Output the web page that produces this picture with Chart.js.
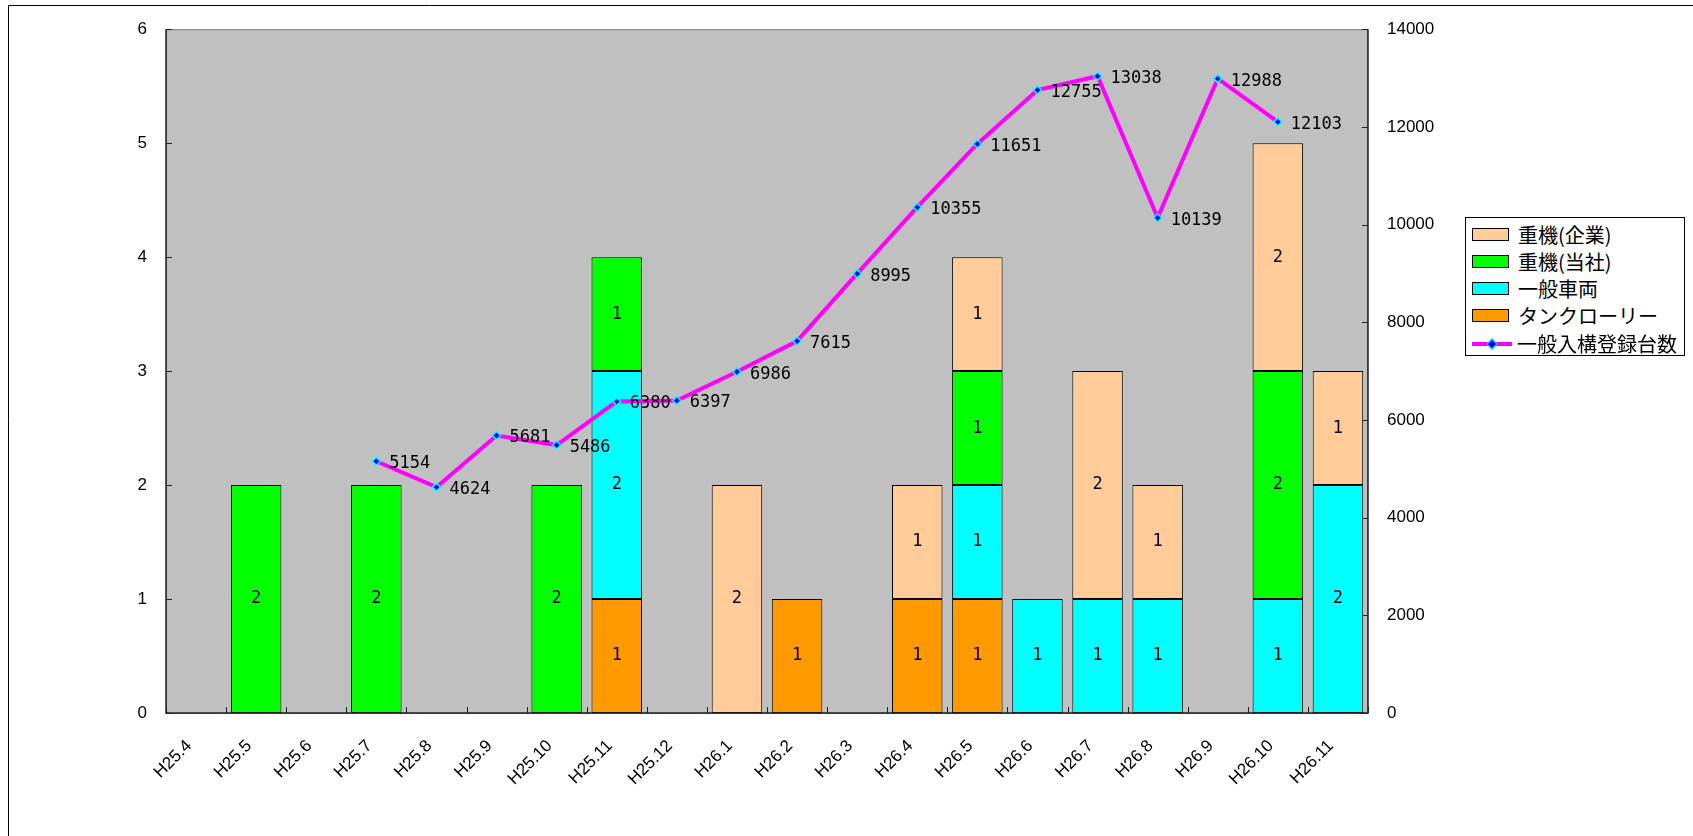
<!DOCTYPE html>
<html>
<head>
<meta charset="utf-8">
<script src="https://cdn.jsdelivr.net/npm/chart.js@4.4.1/dist/chart.umd.min.js"></script>
<style>
  body { margin: 0; background: #fff; }
  #wrap { position: relative; width: 1693px; height: 836px; }
  #legend {
    position: absolute; left: 1465px; top: 217px; width: 220px; height: 139px;
    border: 1px solid #000; background: #fff; box-sizing: border-box;
    font-family: "Noto Sans CJK JP", sans-serif; font-size: 20px; color: #000;
  }
  .row { position: absolute; left: 6px; height: 26px; display: flex; align-items: center; white-space: nowrap; }
  .swatch { width: 35px; height: 11px; border: 1px solid #000; margin-right: 9px; }
  .lineSample { position: relative; width: 40px; height: 11px; margin-right: 5px; }
  .lineSample .bar { position: absolute; left: 0; top: 4px; width: 40px; height: 4px; background: #FF00FF; }
  .lineSample .dot { position: absolute; left: 16px; top: 2px; width: 6px; height: 6px; background: #0000FF; border: 1px solid #00FFFF; transform: rotate(45deg); }
</style>
</head>
<body>
<div id="wrap">
  <canvas id="myChart" width="1693" height="836"></canvas>
  <div id="legend"></div>
</div>
<script>
// categories
var months = ['H25.4', 'H25.5', 'H25.6', 'H25.7', 'H25.8', 'H25.9', 'H25.10', 'H25.11', 'H25.12', 'H26.1',
              'H26.2', 'H26.3', 'H26.4', 'H26.5', 'H26.6', 'H26.7', 'H26.8', 'H26.9', 'H26.10', 'H26.11'];

// stacked bar series (bottom to top)
var tankLorry  = [null, null, null, null, null, null, null, 1, null, null, 1, null, 1, 1, null, null, null, null, null, null];
var generalCar = [null, null, null, null, null, null, null, 2, null, null, null, null, null, 1, 1, 1, 1, null, 1, 2];
var heavyOwn   = [null, 2, null, 2, null, null, 2, 1, null, null, null, null, null, 1, null, null, null, null, 2, null];
var heavyCorp  = [null, null, null, null, null, null, null, null, null, 2, null, null, 1, 1, null, 2, 1, null, 2, 1];

// line series (right axis)
var registered = [null, null, null, 5154, 4624, 5681, 5486, 6380, 6397, 6986,
                  7615, 8995, 10355, 11651, 12755, 13038, 10139, 12988, 12103, null];

// axis ticks
var leftTicks = [0, 1, 2, 3, 4, 5, 6];
var rightTicks = [0, 2000, 4000, 6000, 8000, 10000, 12000, 14000];

var labelFont = '17px "DejaVu Sans Mono"';

function barSet(label, data, color) {
  return {
    label: label, data: data, backgroundColor: color, borderColor: '#000', borderWidth: 1,
    borderSkipped: false, barPercentage: 0.84, categoryPercentage: 1, yAxisID: 'y', order: 1
  };
}

// plot background, ticks, value labels, frame
var decor = {
  id: 'decor',
  beforeDraw: function(chart) {
    var a = chart.chartArea, ctx = chart.ctx;
    ctx.save();
    ctx.fillStyle = '#C0C0C0';
    ctx.fillRect(a.left, a.top, a.right - a.left, a.bottom - a.top);
    ctx.restore();
  },
  afterDatasetsDraw: function(chart) {
    var a = chart.chartArea, ctx = chart.ctx;
    ctx.save();
    // plot frame
    ctx.strokeStyle = '#808080';
    ctx.lineWidth = 1;
    ctx.strokeRect(a.left + 0.5, a.top + 0.5, a.right - a.left - 1, a.bottom - a.top);
    ctx.strokeStyle = '#222';
    ctx.lineWidth = 1.5;
    ctx.beginPath();
    ctx.moveTo(a.left, a.top); ctx.lineTo(a.left, a.bottom); ctx.lineTo(a.right, a.bottom); ctx.lineTo(a.right, a.top);
    ctx.stroke();
    // tick marks, pointing inwards
    ctx.lineWidth = 1;
    ctx.beginPath();
    var n = months.length, w = (a.right - a.left) / n;
    for (var i = 0; i <= n; i++) {
      var x = Math.round(a.left + i * w) + 0.5;
      ctx.moveTo(x, a.bottom); ctx.lineTo(x, a.bottom - 6);
    }
    leftTicks.forEach(function(v) {
      var y = Math.round(chart.scales.y.getPixelForValue(v)) + 0.5;
      ctx.moveTo(a.left, y); ctx.lineTo(a.left + 6, y);
    });
    rightTicks.forEach(function(v) {
      var y = Math.round(chart.scales.y1.getPixelForValue(v)) + 0.5;
      ctx.moveTo(a.right - 6, y); ctx.lineTo(a.right, y);
    });
    ctx.stroke();

    // value labels
    ctx.fillStyle = '#000';
    ctx.font = labelFont;
    chart.data.datasets.forEach(function(ds, di) {
      var meta = chart.getDatasetMeta(di);
      meta.data.forEach(function(el, j) {
        var v = ds.data[j];
        if (v == null) return;
        if (ds.type === 'line') {
          ctx.textAlign = 'left'; ctx.textBaseline = 'middle';
          ctx.fillText(String(v), el.x + 13, el.y + 2.5);
        } else {
          ctx.textAlign = 'center'; ctx.textBaseline = 'middle';
          ctx.fillText(String(v), el.x, (el.y + el.base) / 2);
        }
      });
    });
    ctx.restore();
  },
  afterDraw: function(chart) {
    var ctx = chart.ctx;
    ctx.save();
    ctx.strokeStyle = '#000';
    ctx.lineWidth = 1;
    ctx.beginPath();
    ctx.moveTo(8.5, 836); ctx.lineTo(8.5, 5.5); ctx.lineTo(1693, 5.5);
    ctx.stroke();
    ctx.restore();
  }
};

var axisFont = { family: '"Liberation Sans", Arial, sans-serif', size: 17 };

var config = {
  type: 'bar',
  data: {
    labels: months,
    datasets: [
      {
        type: 'line', label: '一般入構登録台数', data: registered, yAxisID: 'y1', order: 0,
        borderColor: '#FF00FF', borderWidth: 4, tension: 0, fill: false,
        pointStyle: 'rectRot', pointRadius: 4, pointBackgroundColor: '#0000FF',
        pointBorderColor: '#00FFFF', pointBorderWidth: 1.5
      },
      barSet('タンクローリー', tankLorry, '#FF9900'),
      barSet('一般車両', generalCar, '#00FFFF'),
      barSet('重機(当社)', heavyOwn, '#00FF00'),
      barSet('重機(企業)', heavyCorp, '#FFCC99')
    ]
  },
  options: {
    responsive: false,
    animation: false,
    layout: { padding: { top: 21, left: 0, right: 0, bottom: 0 } },
    plugins: { legend: { display: false }, tooltip: { enabled: false } },
    scales: {
      x: {
        stacked: true,
        grid: { display: false, drawTicks: false },
        border: { display: false },
        ticks: { autoSkip: false, minRotation: 45, maxRotation: 45, color: '#000', font: axisFont, padding: 23, labelOffset: -7 },
        afterFit: function(s) { s.height = 123; }
      },
      y: {
        stacked: true, min: 0, max: 6,
        grid: { display: false, drawTicks: false },
        border: { display: false },
        ticks: { stepSize: 1, color: '#000', font: axisFont, padding: 19 },
        afterFit: function(s) { s.width = 166; }
      },
      y1: {
        position: 'right', min: 0, max: 14000,
        grid: { display: false, drawTicks: false },
        border: { display: false },
        ticks: { stepSize: 2000, color: '#000', font: axisFont, padding: 19,
                 callback: function(v) { return String(v); } },
        afterFit: function(s) { s.width = 325; }
      }
    }
  },
  plugins: [decor]
};

var myChart = new Chart(document.getElementById('myChart'), config);

// legend: bars top-down in reverse stacking order, then the line
var legend = document.getElementById('legend');
var order = [4, 3, 2, 1, 0];
order.forEach(function(di, k) {
  var ds = config.data.datasets[di];
  var row = document.createElement('div');
  row.className = 'row';
  row.style.top = (3 + k * 27.3) + 'px';
  if (ds.type === 'line') {
    row.innerHTML = '<div class="lineSample"><div class="bar"></div><div class="dot"></div></div>';
  } else {
    row.innerHTML = '<div class="swatch" style="background:' + ds.backgroundColor + '"></div>';
  }
  var span = document.createElement('span');
  span.textContent = ds.label;
  row.appendChild(span);
  legend.appendChild(row);
});
</script>
</body>
</html>
